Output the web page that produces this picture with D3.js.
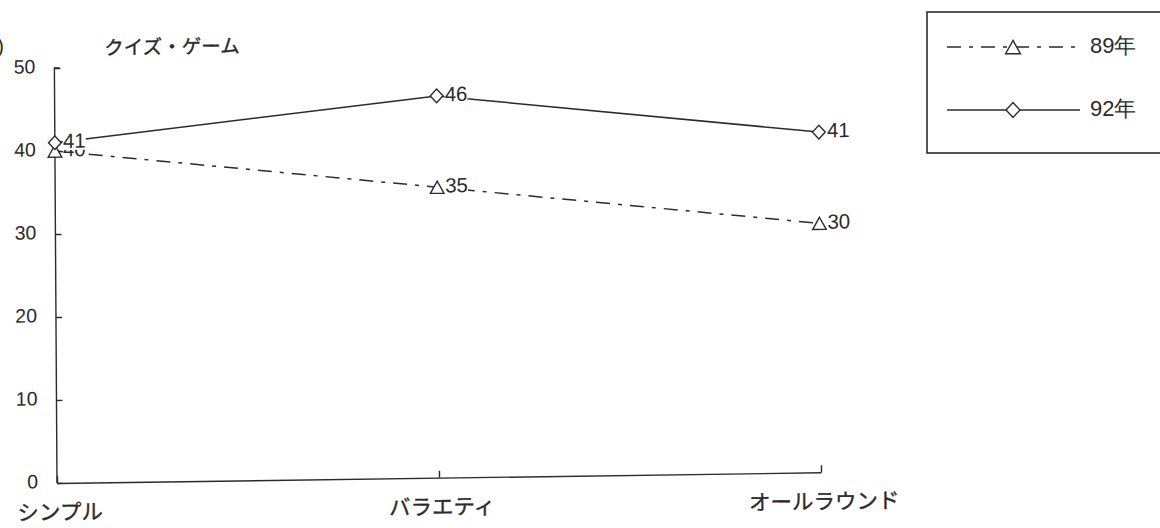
<!DOCTYPE html>
<html><head><meta charset="utf-8">
<script src="https://cdn.jsdelivr.net/npm/d3@7"></script>
<style>body{margin:0;background:#fff;} svg{display:block}</style>
</head><body><svg id="c" width="1160" height="528"></svg>
<script>
const categories = ["シンプル", "バラエティ", "オールラウンド"];
const seriesNames = ["89年", "92年"];
const values89 = [40, 35, 30];
const values92 = [41, 46, 41];
const yTicks = [0, 10, 20, 30, 40, 50];
const chartTitle = "クイズ・ゲーム";
const unitLabel = "(%)";

const ink = "#2b2b2b";
const numFont = "'Liberation Sans', Arial, sans-serif";
const jpFont = "'Noto Sans CJK JP', sans-serif";

const svg = d3.select("#c");
const x = d3.scalePoint().domain(categories).range([57, 821]).padding(0);
const y = d3.scaleLinear().domain([0, 50]).range([483, 68]);

// the scanned page is slightly tilted
const g = svg.append("g")
  .attr("transform", "translate(57,483) skewY(-0.8) skewX(0.36) translate(-57,-483)");

// unit label (mostly cut off at the left edge)
svg.append("text").attr("x", 4).attr("y", 48).attr("text-anchor", "end")
  .attr("dominant-baseline", "middle").attr("font-family", numFont)
  .attr("font-size", 20).attr("fill", ink).text(unitLabel);

// title
g.append("text").attr("x", 107).attr("y", 50).attr("dominant-baseline", "middle")
  .attr("font-family", jpFont).attr("font-size", 19.5).attr("fill", ink)
  .attr("stroke", ink).attr("stroke-width", 0.35).text(chartTitle);

// y axis
const yAxis = d3.axisRight(y).tickValues(yTicks).tickSize(6).tickFormat("");
const ya = g.append("g").attr("transform", `translate(${x.range()[0]},0)`).call(yAxis);
ya.select(".domain").attr("d", `M0,${y(0)}V${y(50)}h5`);
ya.selectAll("line,path").attr("stroke", ink).attr("stroke-width", 1.4);
g.append("g").selectAll("text").data(yTicks).join("text")
  .attr("x", x.range()[0] - 19).attr("y", d => y(d)).attr("text-anchor", "end")
  .attr("dominant-baseline", "middle").attr("font-family", numFont)
  .attr("font-size", 19.5).attr("fill", ink).text(d => d);

// x axis
const xAxis = d3.axisTop(x).tickSize(7).tickSizeOuter(0).tickFormat("");
const xa = g.append("g").attr("transform", `translate(0,${y(0)})`).call(xAxis);
xa.selectAll("line,path").attr("stroke", ink).attr("stroke-width", 1.4);
g.append("g").selectAll("text").data(categories).join("text")
  .attr("x", d => x(d) + 3).attr("y", y(0) + 31).attr("text-anchor", "middle")
  .attr("dominant-baseline", "middle").attr("font-family", jpFont)
  .attr("font-size", 21.5).attr("fill", ink).attr("stroke", ink).attr("stroke-width", 0.35)
  .text(d => d);

// symbols
const diamondType = { draw(ctx, size) { const s = Math.sqrt(size), w = s * 0.47, h = s * 0.5;
  ctx.moveTo(0, -h); ctx.lineTo(w, 0); ctx.lineTo(0, h); ctx.lineTo(-w, 0); ctx.closePath(); } };
const triangleType = { draw(ctx, size) { const s = Math.sqrt(size), w = s * 0.5, h = s * 0.45;
  ctx.moveTo(0, -h); ctx.lineTo(w, h); ctx.lineTo(-w, h); ctx.closePath(); } };

const series = [
  { name: seriesNames[0], values: values89, dash: "14,8,4,8", sym: triangleType },
  { name: seriesNames[1], values: values92, dash: null, sym: diamondType }
];
const line = d3.line().x((d, i) => x(categories[i])).y(d => y(d));

series.forEach(s => {
  g.append("path").datum(s.values).attr("d", line).attr("fill", "none")
    .attr("stroke", ink).attr("stroke-width", 1.5).attr("stroke-dasharray", s.dash);
});
series.forEach(s => {
  const sg = g.append("g");
  sg.selectAll("path").data(s.values).join("path")
    .attr("transform", (d, i) => `translate(${x(categories[i])},${y(d)})`)
    .attr("d", d3.symbol().type(s.sym).size(185)())
    .attr("fill", "#fff").attr("stroke", ink).attr("stroke-width", 1.4);
  s.values.forEach((d, i) => {
    const lg = sg.append("g");
    const t = lg.append("text").attr("x", x(categories[i]) + 8).attr("y", y(d))
      .attr("dominant-baseline", "middle").attr("font-family", numFont)
      .attr("font-size", 20.5).attr("fill", ink).text(d);
    const b = t.node().getBBox();
    lg.insert("rect", "text").attr("x", b.x).attr("y", b.y + 2).attr("width", b.width)
      .attr("height", b.height - 4).attr("fill", "#fff");
  });
});

// legend
const leg = svg.append("g");
leg.append("rect").attr("x", 927).attr("y", 12).attr("width", 250).attr("height", 141)
  .attr("fill", "#fff").attr("stroke", ink).attr("stroke-width", 1.6);
const legY = d3.scalePoint().domain(seriesNames).range([47, 110]);
series.forEach(s => {
  const ly = legY(s.name);
  leg.append("line").attr("x1", 947).attr("x2", 1080).attr("y1", ly).attr("y2", ly)
    .attr("stroke", ink).attr("stroke-width", 1.5).attr("stroke-dasharray", s.dash);
  leg.append("path").attr("transform", `translate(1013,${ly})`)
    .attr("d", d3.symbol().type(s.sym).size(220)())
    .attr("fill", "#fff").attr("stroke", ink).attr("stroke-width", 1.4);
  leg.append("text").attr("x", 1090).attr("y", ly).attr("dominant-baseline", "middle")
    .attr("font-family", numFont).attr("font-size", 22).attr("fill", ink).text(s.name);
});
</script></body></html>
